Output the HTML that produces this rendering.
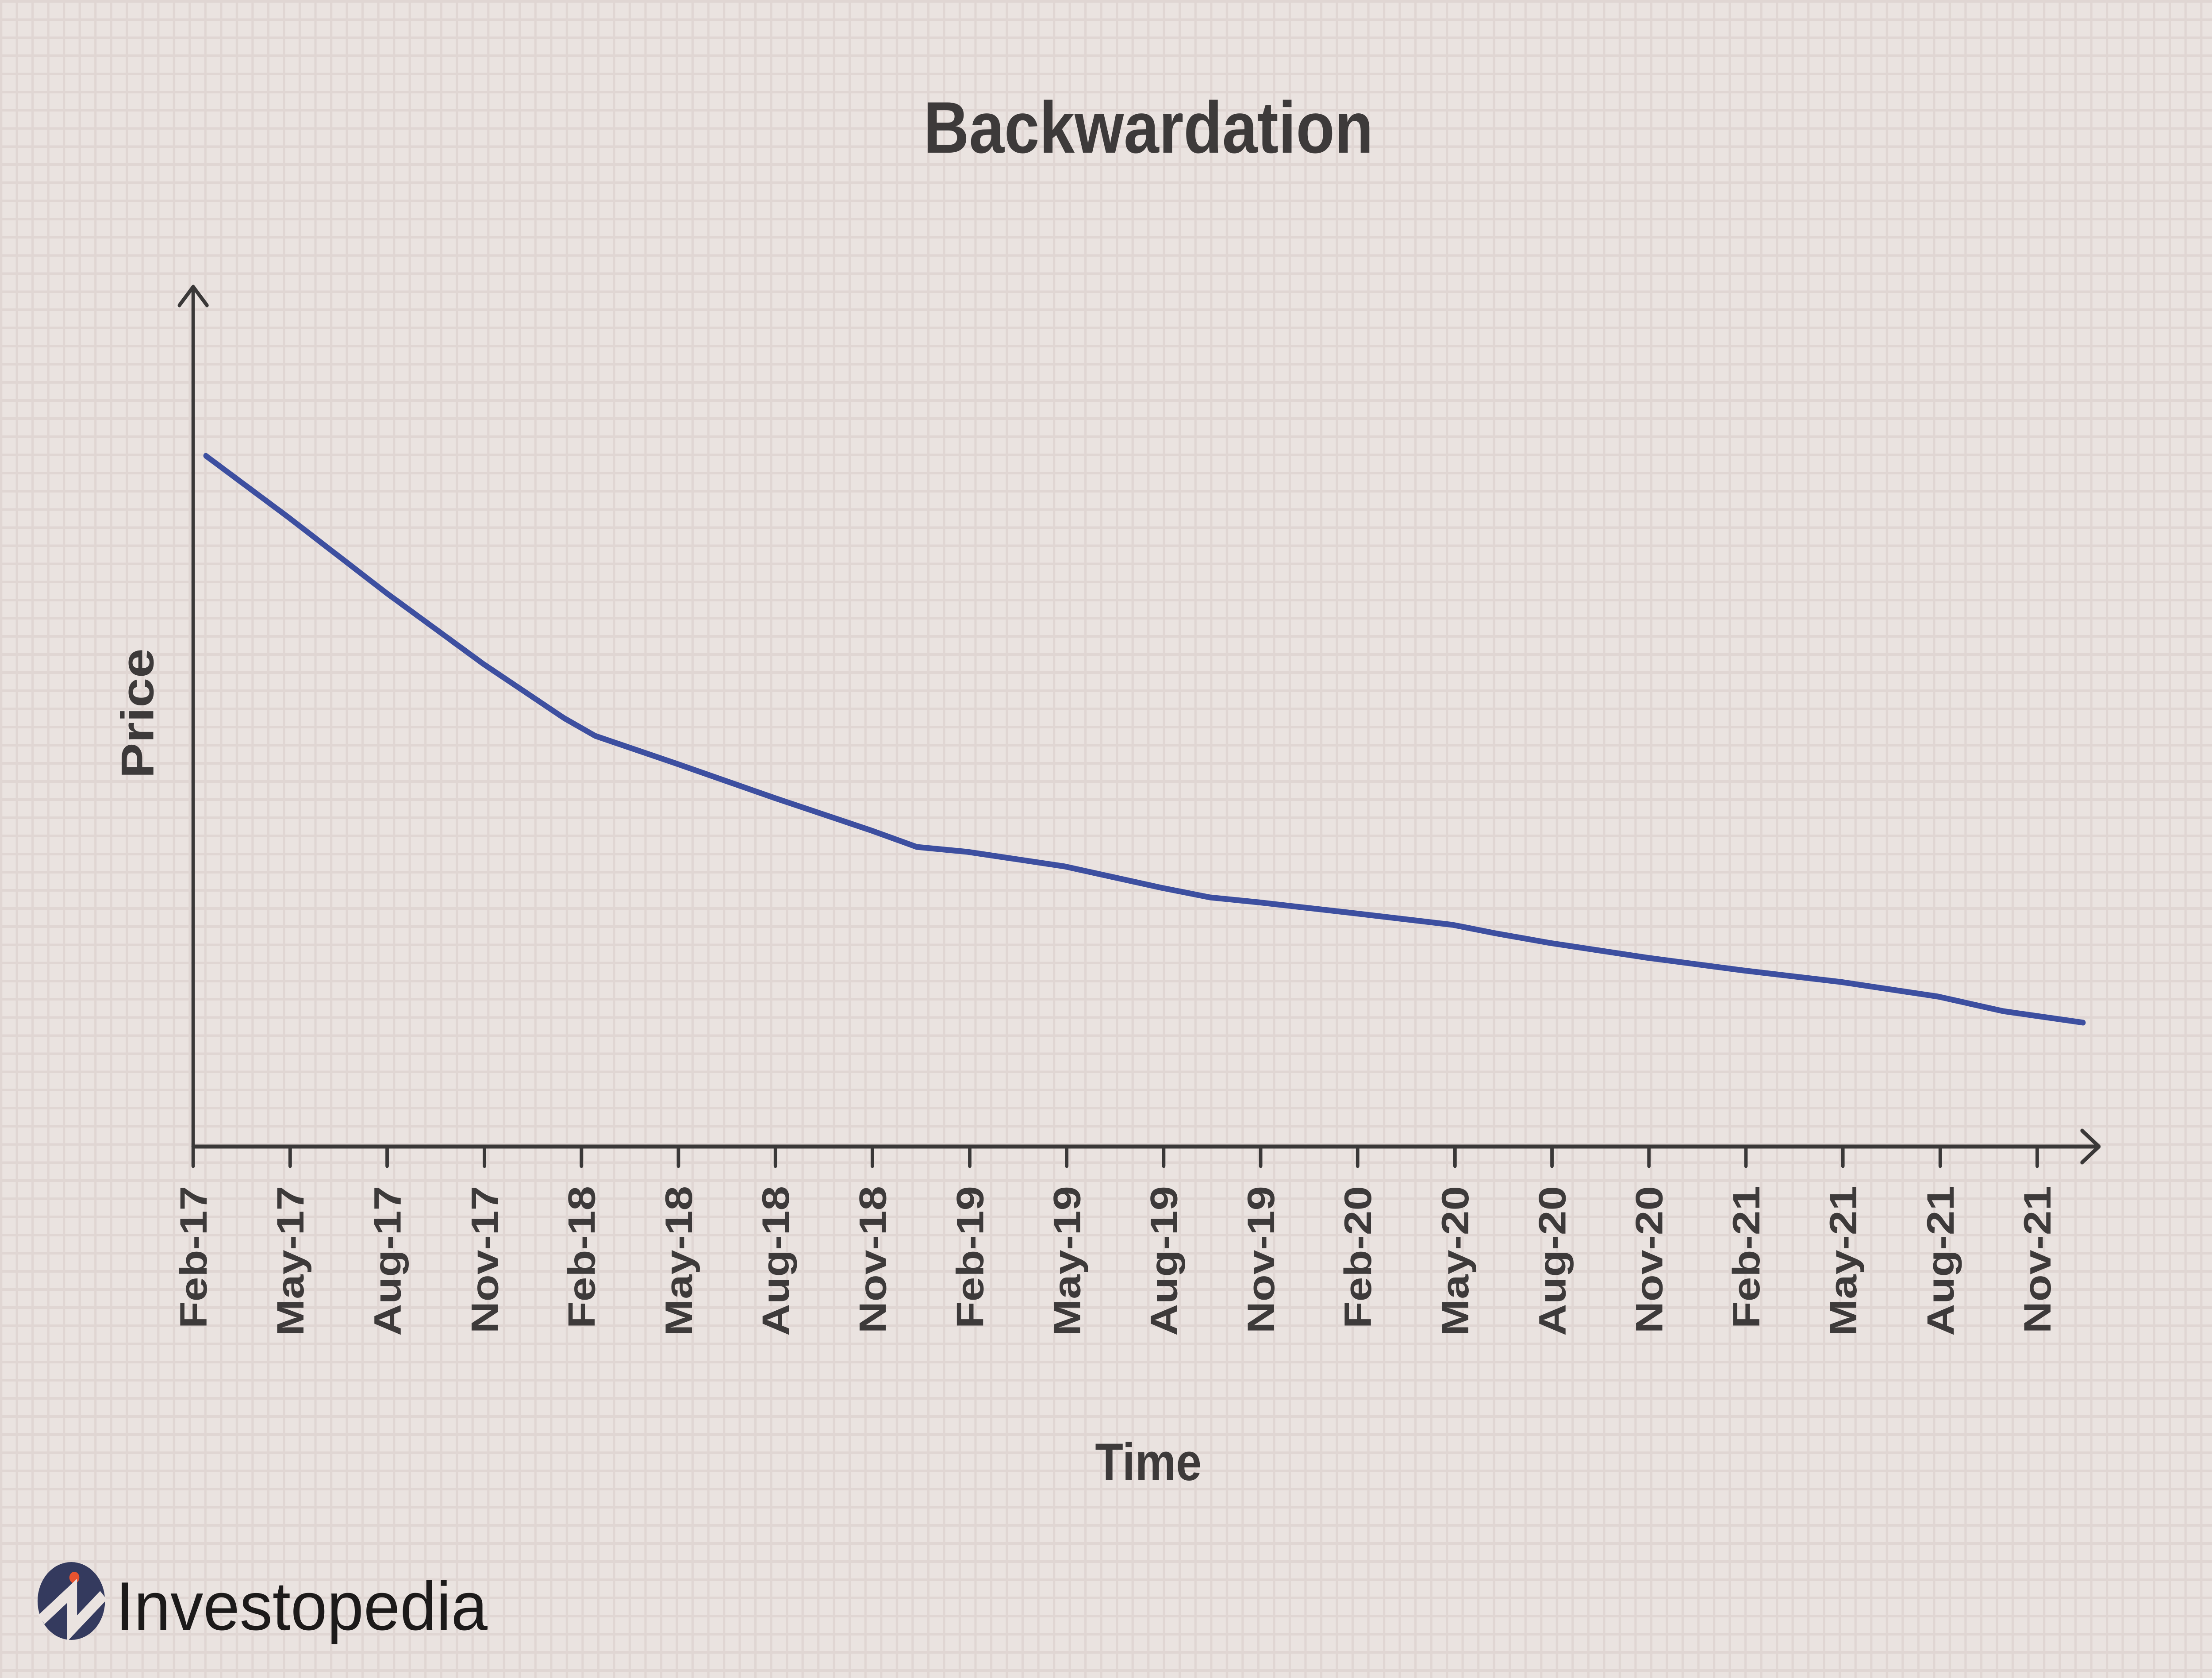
<!DOCTYPE html>
<html><head><meta charset="utf-8"><style>
html,body{margin:0;padding:0;width:100%;height:100%;overflow:hidden;background:#eae3e0;}
svg{position:fixed;left:0;top:0;width:100vw;height:100vh;display:block;}
text{font-family:"Liberation Sans",sans-serif;fill:#3d3a3a;}
</style></head><body>
<svg viewBox="0 0 5771 3792" preserveAspectRatio="none" xmlns="http://www.w3.org/2000/svg">
<defs>
<pattern id="g" width="41" height="41" patternUnits="userSpaceOnUse">
<rect width="41" height="41" fill="#eae3e0"/>
<rect width="6" height="41" fill="#e0d6d3"/>
<rect width="41" height="6" fill="#e0d6d3"/>
</pattern>
</defs>
<rect width="5771" height="3792" fill="url(#g)"/>
<text x="2996" y="345" font-size="165" font-weight="bold" text-anchor="middle">Backwardation</text>
<text x="2996" y="3345" font-size="120" font-weight="bold" text-anchor="middle">Time</text>
<text transform="translate(400,1612) rotate(-90)" font-size="120" font-weight="bold" text-anchor="middle">Price</text>
<g stroke="#3a3838" stroke-width="9" fill="none" stroke-linecap="round" stroke-linejoin="round">
<line x1="504" y1="655" x2="504" y2="2591"/>
<polyline points="468,690 504,648 540,690"/>
<line x1="504" y1="2591" x2="5470" y2="2591"/>
<polyline points="5432,2555 5476,2591 5432,2627"/>
<path d="M504 2591v44M757 2591v44M1010 2591v44M1264 2591v44M1517 2591v44M1770 2591v44M2023 2591v44M2276 2591v44M2530 2591v44M2783 2591v44M3036 2591v44M3289 2591v44M3542 2591v44M3796 2591v44M4049 2591v44M4302 2591v44M4555 2591v44M4808 2591v44M5062 2591v44M5315 2591v44"/>
</g>
<g font-size="100" font-weight="bold" text-anchor="end">
<text transform="translate(539,2680) rotate(-90)">Feb-17</text>
<text transform="translate(792,2680) rotate(-90)">May-17</text>
<text transform="translate(1045,2680) rotate(-90)">Aug-17</text>
<text transform="translate(1299,2680) rotate(-90)">Nov-17</text>
<text transform="translate(1552,2680) rotate(-90)">Feb-18</text>
<text transform="translate(1805,2680) rotate(-90)">May-18</text>
<text transform="translate(2058,2680) rotate(-90)">Aug-18</text>
<text transform="translate(2311,2680) rotate(-90)">Nov-18</text>
<text transform="translate(2565,2680) rotate(-90)">Feb-19</text>
<text transform="translate(2818,2680) rotate(-90)">May-19</text>
<text transform="translate(3071,2680) rotate(-90)">Aug-19</text>
<text transform="translate(3324,2680) rotate(-90)">Nov-19</text>
<text transform="translate(3577,2680) rotate(-90)">Feb-20</text>
<text transform="translate(3831,2680) rotate(-90)">May-20</text>
<text transform="translate(4084,2680) rotate(-90)">Aug-20</text>
<text transform="translate(4337,2680) rotate(-90)">Nov-20</text>
<text transform="translate(4590,2680) rotate(-90)">Feb-21</text>
<text transform="translate(4843,2680) rotate(-90)">May-21</text>
<text transform="translate(5097,2680) rotate(-90)">Aug-21</text>
<text transform="translate(5350,2680) rotate(-90)">Nov-21</text>
</g>
<polyline fill="none" stroke="#3d4fa0" stroke-width="13" stroke-linecap="round" stroke-linejoin="round"
points="537,1030 754,1170 1008,1340 1262,1501 1472,1623 1553,1663 1766,1726 2020,1803 2274,1877 2392,1914 2524,1925 2778,1958 3029,2006 3157,2028 3283,2039 3536,2064 3790,2090 3901,2109 4044,2131 4295,2164 4548,2193 4802,2219 5056,2252 5226,2285 5435,2311"/>
<circle cx="186" cy="3618" r="88" fill="#343a5e"/>
<circle cx="194" cy="3565" r="13" fill="#e8532f"/>
<polyline points="108,3660 188,3595 188,3680 270,3605" fill="none" stroke="#eae3e0" stroke-width="26"/>
<text x="302" y="3683" font-size="155" textLength="970" lengthAdjust="spacingAndGlyphs" style="fill:#1c1a1a">Investopedia</text>
</svg>
</body></html>
